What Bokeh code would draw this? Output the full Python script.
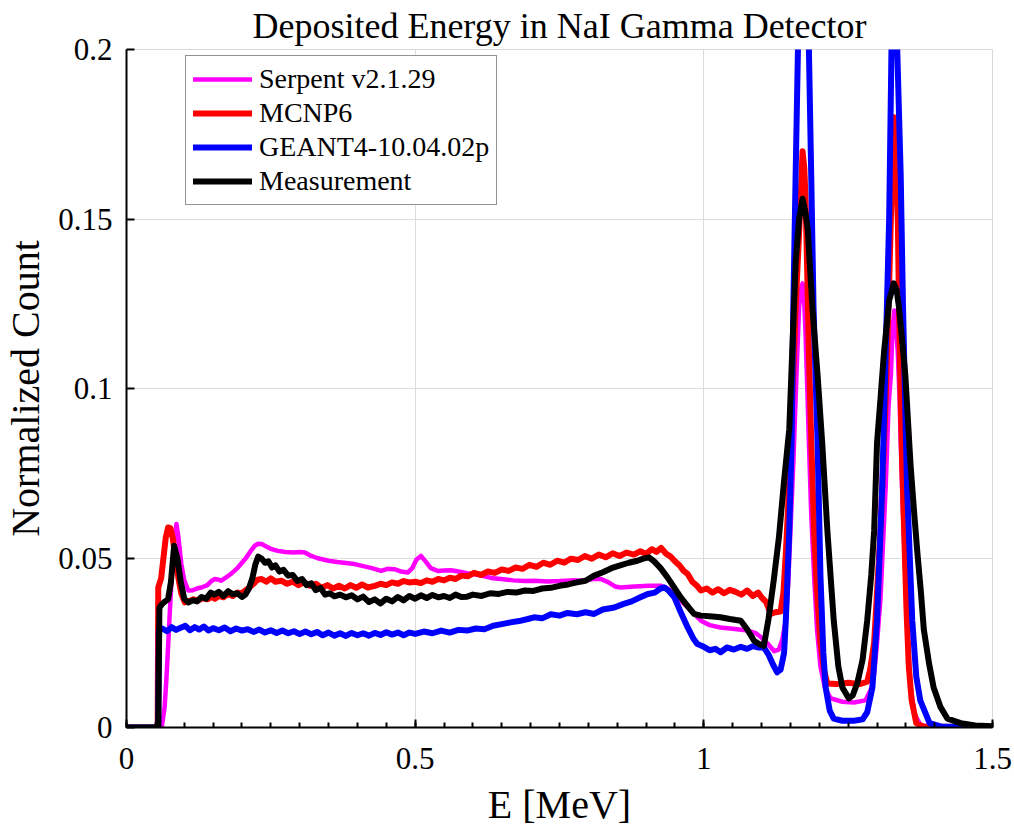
from bokeh.plotting import figure
from bokeh.models import Range1d, FixedTicker, Legend, LegendItem
from bokeh.embed import file_html
from bokeh.resources import INLINE

# ---------------- data ----------------
serpent_e = [0, 0.061, 0.066, 0.069, 0.072, 0.075, 0.078, 0.082, 0.0865, 0.090, 0.095, 0.100, 0.107, 0.115,
             0.122, 0.130, 0.140, 0.147, 0.153, 0.160, 0.164, 0.172, 0.180, 0.187, 0.193, 0.200, 0.207, 0.214,
             0.222, 0.228, 0.234, 0.242, 0.250, 0.262, 0.275, 0.290, 0.300, 0.309, 0.320, 0.330, 0.337, 0.350,
             0.365, 0.380, 0.395, 0.410, 0.425, 0.441, 0.452, 0.464, 0.476, 0.487, 0.495, 0.502, 0.510, 0.518,
             0.527, 0.539, 0.550, 0.562, 0.575, 0.590, 0.603, 0.620, 0.635, 0.649, 0.670, 0.690, 0.706, 0.730,
             0.750, 0.770, 0.793, 0.808, 0.822, 0.835, 0.846, 0.856, 0.880, 0.905, 0.926, 0.938, 0.949, 0.960,
             0.972, 0.984, 0.995, 1.010, 1.029, 1.050, 1.076, 1.090, 1.099, 1.112, 1.122, 1.130, 1.136, 1.142,
             1.146, 1.150, 1.155, 1.159, 1.162, 1.165, 1.168, 1.171, 1.174, 1.176, 1.179, 1.182, 1.186, 1.191,
             1.196, 1.202, 1.210, 1.220, 1.240, 1.260, 1.280, 1.290, 1.295, 1.300, 1.306, 1.310, 1.315, 1.320,
             1.324, 1.327, 1.330, 1.333, 1.336, 1.339, 1.341, 1.345, 1.349, 1.353, 1.358, 1.365, 1.375, 1.400,
             1.500]
serpent_v = [0, 0, 0.006, 0.014, 0.0237, 0.034, 0.0433, 0.054, 0.060, 0.056, 0.0482, 0.0435, 0.0404, 0.0405,
             0.0410, 0.0413, 0.0420, 0.0432, 0.0438, 0.0436, 0.0433, 0.0442, 0.0452, 0.0462, 0.0472, 0.0486,
             0.0500, 0.0518, 0.0536, 0.0542, 0.0541, 0.0534, 0.0527, 0.0521, 0.0518, 0.0516, 0.0518, 0.0516,
             0.0506, 0.0500, 0.0497, 0.0492, 0.0488, 0.0485, 0.0482, 0.0476, 0.0470, 0.0462, 0.0468, 0.0467,
             0.0460, 0.0457, 0.0470, 0.0495, 0.0506, 0.0490, 0.0470, 0.0462, 0.0463, 0.0464, 0.0460, 0.0455,
             0.0452, 0.0446, 0.0440, 0.0438, 0.0434, 0.0432, 0.0433, 0.0431, 0.0432, 0.0434, 0.0433, 0.0438,
             0.0438, 0.0428, 0.0416, 0.0413, 0.0416, 0.0418, 0.0418, 0.0410, 0.0394, 0.0374, 0.0354, 0.0334,
             0.0315, 0.0302, 0.0295, 0.0291, 0.0286, 0.0278, 0.0266, 0.0245, 0.0225, 0.0230, 0.0260, 0.0316,
             0.042, 0.058, 0.078, 0.097, 0.111, 0.124, 0.129, 0.131, 0.125, 0.117, 0.101, 0.084, 0.063, 0.0447,
             0.029, 0.018, 0.0115, 0.0086, 0.0076, 0.0074, 0.0080, 0.0115, 0.0158, 0.025, 0.038, 0.053, 0.071,
             0.095, 0.104, 0.118, 0.123, 0.118, 0.1105, 0.097, 0.084, 0.063, 0.0447, 0.028, 0.0118, 0.004,
             0.0007, 0, 0]

mcnp_e = [0, 0.054, 0.055, 0.060, 0.064, 0.068, 0.072, 0.076, 0.080, 0.085, 0.090, 0.095, 0.101, 0.108, 0.116,
          0.124, 0.132, 0.140, 0.148, 0.153, 0.160, 0.168, 0.176, 0.184, 0.192, 0.198, 0.205, 0.212, 0.220,
          0.227, 0.234, 0.242, 0.250, 0.258, 0.268, 0.278, 0.288, 0.298, 0.308, 0.318, 0.328, 0.338, 0.348,
          0.358, 0.368, 0.378, 0.388, 0.398, 0.408, 0.418, 0.430, 0.440, 0.450, 0.460, 0.470, 0.480, 0.490,
          0.500, 0.510, 0.520, 0.530, 0.540, 0.550, 0.560, 0.570, 0.580, 0.591, 0.602, 0.614, 0.626, 0.638,
          0.650, 0.662, 0.674, 0.686, 0.698, 0.710, 0.722, 0.734, 0.746, 0.758, 0.770, 0.782, 0.794, 0.806,
          0.818, 0.830, 0.842, 0.854, 0.866, 0.879, 0.890, 0.900, 0.910, 0.918, 0.926, 0.935, 0.942, 0.949,
          0.958, 0.965, 0.972, 0.980, 0.988, 0.995, 1.005, 1.015, 1.025, 1.035, 1.045, 1.055, 1.065, 1.075,
          1.085, 1.094, 1.100, 1.108, 1.116, 1.124, 1.133, 1.138, 1.142, 1.146, 1.150, 1.155, 1.159, 1.164,
          1.168, 1.171, 1.174, 1.176, 1.179, 1.182, 1.186, 1.191, 1.196, 1.202, 1.208, 1.214, 1.230, 1.250,
          1.270, 1.283, 1.288, 1.295, 1.300, 1.306, 1.310, 1.315, 1.320, 1.324, 1.327, 1.329, 1.332, 1.336,
          1.338, 1.341, 1.344, 1.347, 1.351, 1.355, 1.360, 1.368, 1.380, 1.500]
mcnp_v = [0, 0, 0.0413, 0.0440, 0.0500, 0.0560, 0.0590, 0.0588, 0.0560, 0.0500, 0.0440, 0.0395, 0.0369, 0.0372,
          0.0378, 0.0374, 0.0382, 0.0378, 0.0386, 0.0380, 0.0388, 0.0384, 0.0394, 0.0388, 0.0398, 0.0394,
          0.0403, 0.0412, 0.0424, 0.0436, 0.0438, 0.0430, 0.0440, 0.0430, 0.0433, 0.0424, 0.0430, 0.0420,
          0.0428, 0.0418, 0.0424, 0.0412, 0.0420, 0.0410, 0.0418, 0.0410, 0.0420, 0.0412, 0.0422, 0.0413,
          0.0418, 0.0424, 0.0420, 0.0428, 0.0424, 0.0432, 0.0428, 0.0430, 0.0426, 0.0434, 0.0430, 0.0438,
          0.0434, 0.0442, 0.0438, 0.0448, 0.0446, 0.0456, 0.0450, 0.0460, 0.0456, 0.0466, 0.0462, 0.0472,
          0.0468, 0.0480, 0.0474, 0.0486, 0.0480, 0.0492, 0.0486, 0.0498, 0.0494, 0.0506, 0.0498, 0.0510,
          0.0502, 0.0514, 0.0506, 0.0516, 0.0510, 0.0520, 0.0512, 0.0526, 0.0518, 0.0530, 0.0512, 0.0505,
          0.0492, 0.0478, 0.0462, 0.0453, 0.0430, 0.0418, 0.0404, 0.0410, 0.0398, 0.0408, 0.0396, 0.0406,
          0.0400, 0.0392, 0.0404, 0.0388, 0.0398, 0.0384, 0.0370, 0.0335, 0.0340, 0.0342, 0.0400, 0.0513,
          0.065, 0.084, 0.105, 0.124, 0.142, 0.157, 0.170, 0.165, 0.157, 0.135, 0.1105, 0.085, 0.058, 0.040,
          0.025, 0.017, 0.013, 0.0128, 0.0132, 0.0128, 0.0135, 0.017, 0.025, 0.040, 0.058, 0.075, 0.097,
          0.125, 0.150, 0.170, 0.180, 0.170, 0.150, 0.125, 0.097, 0.075, 0.058, 0.035, 0.018, 0.008, 0.0013,
          0.0003, 0]

geant_e = [0, 0.055, 0.056, 0.062, 0.070, 0.078, 0.086, 0.094, 0.102, 0.110, 0.118, 0.126, 0.134, 0.142, 0.150,
           0.160, 0.170, 0.180, 0.190, 0.200, 0.210, 0.220, 0.230, 0.240, 0.250, 0.260, 0.270, 0.280, 0.290,
           0.300, 0.310, 0.320, 0.330, 0.340, 0.350, 0.360, 0.370, 0.380, 0.390, 0.400, 0.410, 0.420, 0.430,
           0.440, 0.450, 0.460, 0.470, 0.480, 0.490, 0.500, 0.515, 0.530, 0.545, 0.560, 0.575, 0.590, 0.605,
           0.620, 0.635, 0.650, 0.665, 0.680, 0.695, 0.706, 0.720, 0.735, 0.750, 0.764, 0.780, 0.795, 0.810,
           0.825, 0.845, 0.860, 0.875, 0.890, 0.903, 0.915, 0.925, 0.932, 0.940, 0.949, 0.960, 0.972, 0.982,
           0.989, 1.000, 1.010, 1.020, 1.029, 1.040, 1.052, 1.064, 1.075, 1.085, 1.095, 1.104, 1.112, 1.120,
           1.127, 1.133, 1.139, 1.142, 1.148, 1.152, 1.155, 1.159, 1.163, 1.168, 1.173, 1.178, 1.182, 1.186,
           1.190, 1.197, 1.202, 1.207, 1.211, 1.218, 1.225, 1.240, 1.260, 1.275, 1.283, 1.292, 1.300, 1.309,
           1.315, 1.321, 1.325, 1.330, 1.335, 1.341, 1.345, 1.352, 1.361, 1.368, 1.375, 1.391, 1.410, 1.500]
geant_v = [0, 0, 0.0286, 0.0292, 0.0284, 0.0296, 0.0288, 0.0294, 0.0300, 0.0287, 0.0296, 0.0289, 0.0298, 0.0286,
           0.0293, 0.0287, 0.0295, 0.0284, 0.0292, 0.0286, 0.0290, 0.0282, 0.0289, 0.0280, 0.0287, 0.0279,
           0.0286, 0.0278, 0.0284, 0.0276, 0.0283, 0.0275, 0.0282, 0.0272, 0.0280, 0.0271, 0.0278, 0.0270,
           0.0279, 0.0272, 0.0278, 0.0271, 0.0279, 0.0273, 0.0281, 0.0274, 0.0280, 0.0272, 0.0280, 0.0276,
           0.0283, 0.0278, 0.0286, 0.0280, 0.0288, 0.0286, 0.0292, 0.0290, 0.0300, 0.0305, 0.0310, 0.0314,
           0.0320, 0.0325, 0.0322, 0.0334, 0.0330, 0.0338, 0.0334, 0.0340, 0.0335, 0.0348, 0.0354, 0.0364,
           0.0372, 0.0384, 0.0394, 0.0398, 0.0410, 0.0413, 0.0402, 0.0384, 0.0340, 0.0295, 0.0262, 0.0246,
           0.0238, 0.0228, 0.0232, 0.0222, 0.0236, 0.0230, 0.0238, 0.0232, 0.0240, 0.0236, 0.0236, 0.0215,
           0.0185, 0.0163, 0.0171, 0.0220, 0.0316, 0.058, 0.084, 0.124, 0.163, 0.200, 0.225, 0.232, 0.224,
           0.200, 0.163, 0.124, 0.084, 0.0447, 0.022, 0.0118, 0.005, 0.0026, 0.0020, 0.0020, 0.0024, 0.0045,
           0.0118, 0.0316, 0.071, 0.1105, 0.150, 0.200, 0.215, 0.200, 0.163, 0.124, 0.071, 0.0316, 0.015,
           0.0079, 0.0013, 0.0003, 0]

meas_e = [0, 0.055, 0.057, 0.062, 0.067, 0.072, 0.077, 0.0825, 0.088, 0.094, 0.100, 0.107, 0.115, 0.122, 0.130,
          0.138, 0.146, 0.152, 0.160, 0.168, 0.176, 0.184, 0.192, 0.200, 0.206, 0.212, 0.218, 0.223, 0.228,
          0.234, 0.240, 0.246, 0.252, 0.258, 0.265, 0.272, 0.280, 0.288, 0.296, 0.304, 0.312, 0.320, 0.328,
          0.336, 0.344, 0.352, 0.360, 0.370, 0.380, 0.390, 0.400, 0.410, 0.420, 0.430, 0.440, 0.450, 0.460,
          0.470, 0.480, 0.490, 0.500, 0.510, 0.520, 0.530, 0.540, 0.550, 0.560, 0.570, 0.580, 0.590, 0.600,
          0.615, 0.630, 0.645, 0.660, 0.675, 0.690, 0.705, 0.720, 0.735, 0.750, 0.765, 0.780, 0.795, 0.810,
          0.825, 0.840, 0.855, 0.870, 0.885, 0.895, 0.905, 0.914, 0.925, 0.937, 0.948, 0.960, 0.972, 0.983,
          0.995, 1.010, 1.029, 1.045, 1.064, 1.075, 1.087, 1.097, 1.104, 1.112, 1.121, 1.130, 1.139, 1.148,
          1.153, 1.159, 1.165, 1.171, 1.176, 1.180, 1.188, 1.197, 1.205, 1.214, 1.225, 1.233, 1.240, 1.251,
          1.258, 1.266, 1.275, 1.283, 1.290, 1.295, 1.300, 1.306, 1.312, 1.321, 1.329, 1.334, 1.338, 1.343,
          1.349, 1.358, 1.364, 1.370, 1.376, 1.381, 1.390, 1.398, 1.410, 1.422, 1.445, 1.470, 1.500]
meas_v = [0, 0, 0.0353, 0.0365, 0.0372, 0.0378, 0.0430, 0.0536, 0.0500, 0.0430, 0.0380, 0.0369, 0.0375, 0.0372,
          0.0385, 0.0380, 0.0398, 0.0392, 0.0400, 0.0388, 0.0402, 0.0393, 0.0396, 0.0385, 0.0392, 0.0410,
          0.0440, 0.0480, 0.0504, 0.0498, 0.0486, 0.0490, 0.0472, 0.0478, 0.0460, 0.0465, 0.0448, 0.0450,
          0.0432, 0.0438, 0.0420, 0.0425, 0.0405, 0.0412, 0.0392, 0.0396, 0.0387, 0.0392, 0.0384, 0.0390,
          0.0378, 0.0386, 0.0370, 0.0378, 0.0366, 0.0380, 0.0372, 0.0385, 0.0375, 0.0388, 0.0380, 0.0390,
          0.0382, 0.0391, 0.0384, 0.0388, 0.0382, 0.0392, 0.0385, 0.0386, 0.0392, 0.0388, 0.0396, 0.0394,
          0.0400, 0.0398, 0.0404, 0.0403, 0.0410, 0.0412, 0.0418, 0.0422, 0.0428, 0.0433, 0.0448, 0.0458,
          0.0470, 0.0478, 0.0486, 0.0492, 0.0498, 0.0502, 0.0490, 0.0470, 0.0443, 0.0415, 0.0384, 0.0358,
          0.0335, 0.0330, 0.0328, 0.0325, 0.0320, 0.0315, 0.0290, 0.0256, 0.0245, 0.0241, 0.0320, 0.0433,
          0.0560, 0.0728, 0.088, 0.1105, 0.137, 0.150, 0.156, 0.152, 0.147, 0.124, 0.104, 0.084, 0.058,
          0.0316, 0.018, 0.0118, 0.0086, 0.0095, 0.0132, 0.020, 0.0316, 0.045, 0.058, 0.084, 0.097, 0.1105,
          0.126, 0.131, 0.129, 0.124, 0.115, 0.104, 0.0776, 0.064, 0.0513, 0.040, 0.029, 0.019, 0.0118,
          0.006, 0.0026, 0.0013, 0.0006, 0.0004]

series_names = ["Serpent v2.1.29", "MCNP6", "GEANT4-10.04.02p", "Measurement"]
series_colors = ["#ff00ff", "#ff0000", "#0000ff", "#000000"]

x_ticks = [0, 0.5, 1, 1.5]
x_tick_labels = ["0", "0.5", "1", "1.5"]
y_ticks = [0, 0.05, 0.1, 0.15, 0.2]
y_tick_labels = ["0", "0.05", "0.1", "0.15", "0.2"]

FONT = "Liberation Serif"

# ---------------- figure ----------------
p = figure(width=1014, height=831, output_backend="svg", toolbar_location=None,
           x_range=Range1d(0, 1.5), y_range=Range1d(0, 0.2),
           min_border_left=125, min_border_right=22, min_border_top=48, min_border_bottom=104)

p.title.text = "Deposited Energy in NaI Gamma Detector"
p.title.text_font = FONT
p.title.text_font_size = "36px"
p.title.text_font_style = "normal"
p.title.align = "center"
p.title.standoff = 7
p.title.text_line_height = 0.75
p.title.text_color = "#000000"

p.background_fill_color = "white"
p.border_fill_color = "white"
p.outline_line_color = "#d9d9d9"
p.outline_line_width = 1

p.xgrid.ticker = FixedTicker(ticks=x_ticks)
p.ygrid.ticker = FixedTicker(ticks=y_ticks)
p.grid.grid_line_color = "#dcdcdc"
p.grid.grid_line_width = 1

minor_x = [round(0.05 * i, 2) for i in range(31)]
p.xaxis.ticker = FixedTicker(ticks=x_ticks, minor_ticks=minor_x)
p.yaxis.ticker = FixedTicker(ticks=y_ticks)
p.xaxis.major_label_overrides = {t: l for t, l in zip(x_ticks, x_tick_labels)}
p.yaxis.major_label_overrides = {t: l for t, l in zip(y_ticks, y_tick_labels)}

for ax in (p.xaxis, p.yaxis):
    ax.axis_line_color = "#000000"
    ax.axis_line_width = 2
    ax.major_tick_line_color = "#000000"
    ax.major_tick_line_width = 2
    ax.minor_tick_line_color = "#000000"
    ax.minor_tick_line_width = 2
    ax.major_tick_in = 8
    ax.major_tick_out = 0
    ax.minor_tick_in = 5
    ax.minor_tick_out = 0
    ax.major_label_text_font = FONT
    ax.major_label_text_font_size = "31px"
    ax.major_label_text_color = "#000000"
    ax.axis_label_text_font = FONT
    ax.axis_label_text_font_size = "40px"
    ax.axis_label_text_font_style = "normal"
    ax.axis_label_text_color = "#000000"

p.yaxis.minor_tick_line_color = None
p.xaxis.axis_label = "E [MeV]"
p.yaxis.axis_label = "Normalized Count"
p.xaxis.major_label_standoff = 20
p.yaxis.major_label_standoff = 14
p.xaxis.axis_label_standoff = 10
p.yaxis.axis_label_standoff = 7

# ---------------- lines ----------------
data = [(serpent_e, serpent_v), (mcnp_e, mcnp_v), (geant_e, geant_v), (meas_e, meas_v)]
widths = [4.5, 6, 6, 6]
renderers = []
for (xe, yv), c, w in zip(data, series_colors, widths):
    r = p.line(xe, yv, line_color=c, line_width=w, line_join="round", line_cap="round")
    renderers.append(r)

legend = Legend(items=[LegendItem(label=n, renderers=[r]) for n, r in zip(series_names, renderers)],
                location=(59, 522))
legend.label_text_font = FONT
legend.label_text_font_size = "28px"
legend.label_text_color = "#000000"
legend.label_height = 26
legend.glyph_height = 26
legend.glyph_width = 59
legend.label_standoff = 7
legend.spacing = 2
legend.padding = 7
legend.margin = 0
legend.border_line_color = "#262626"
legend.border_line_width = 1
legend.background_fill_color = "white"
legend.background_fill_alpha = 1
p.add_layout(legend, "center")

open("out.html", "w").write(file_html(p, INLINE))
